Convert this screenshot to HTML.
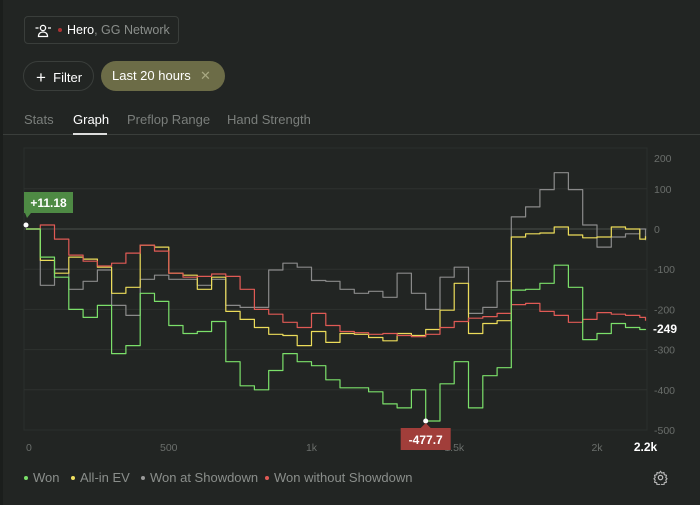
<!DOCTYPE html>
<html><head><meta charset="utf-8">
<style>
body{margin:0;background:#222523;width:700px;height:505px;overflow:hidden;font-family:"Liberation Sans",sans-serif;position:relative}
.abs{position:absolute}
.hdr{left:24px;top:16px;width:155px;height:28px;border:1px solid #3a3e3b;border-radius:4px;box-sizing:border-box;color:#fff;font-size:12.5px}
.pill{top:61px;height:30px;border-radius:15px;box-sizing:border-box;font-size:13px;color:#fff;line-height:30px}
.tab{top:112px;font-size:13px;color:#7a7e7b}
.leg{top:470px;font-size:13px;color:#8a8e8b}
.dot{display:inline-block;width:4px;height:4px;border-radius:2px;margin-right:5px;vertical-align:middle;position:relative;top:-1px}
</style></head><body>
<div class="abs" style="left:0;top:0;width:3px;height:505px;background:#1b1e1c"></div>
<div class="abs hdr">
 <svg class="abs" style="left:10px;top:7px" width="16" height="14" viewBox="0 0 16 14"><circle cx="8" cy="4" r="2.6" fill="none" stroke="#fff" stroke-width="1.3"/><path d="M3.5 12.5c0-3 2-4.5 4.5-4.5s4.5 1.5 4.5 4.5z" fill="none" stroke="#fff" stroke-width="1.3"/><path d="M0.5 4h3M13 4h3" stroke="#fff" stroke-width="1.2"/></svg>
 <span class="abs" style="left:33px;top:11px;width:4px;height:4px;border-radius:2px;background:#a33"></span>
 <span class="abs" style="left:42px;top:6px">Hero<span style="color:#8a8e8b">, GG Network</span></span>
</div>
<div class="abs pill" style="left:23px;width:71px;border:1px solid #3a3e3b;padding-left:12px"><span style="font-size:17px;position:relative;top:1px">+</span>&nbsp; Filter</div>
<div class="abs pill" style="left:101px;width:124px;background:#6c6c47;padding-left:11px">Last 20 hours<span style="position:absolute;left:99px;color:#a8a882">✕</span></div>
<div class="abs tab" style="left:24px">Stats</div>
<div class="abs tab" style="left:73px;color:#fff">Graph</div>
<div class="abs tab" style="left:127px">Preflop Range</div>
<div class="abs tab" style="left:227px">Hand Strength</div>
<div class="abs" style="left:3px;top:134px;width:697px;height:1px;background:#3a3e3b"></div>
<div class="abs" style="left:73px;top:133px;width:34px;height:2px;background:#ddd"></div>
<svg class="abs" style="left:0;top:0" width="700" height="505" id="chart"></svg>
<div class="abs leg" style="left:24px"><span class="dot" style="background:#7be06a"></span>Won</div>
<div class="abs leg" style="left:71px"><span class="dot" style="background:#f0e060"></span>All-in EV</div>
<div class="abs leg" style="left:141px"><span class="dot" style="background:#999"></span>Won at Showdown</div>
<div class="abs leg" style="left:265px"><span class="dot" style="background:#e05a55"></span>Won without Showdown</div>
<svg class="abs" style="left:653px;top:470px" width="15" height="15" viewBox="0 0 24 24"><circle cx="12" cy="12" r="3.5" fill="none" stroke="#bbb" stroke-width="2"/><path d="M12 2l2 3 3.5-1 .5 3.5 3.5 1-1 3.5 2 2-2 2 1 3.5-3.5 1-.5 3.5-3.5-1-2 3-2-3-3.5 1-.5-3.5-3.5-1 1-3.5-2-2 2-2-1-3.5 3.5-1 .5-3.5 3.5 1z" fill="none" stroke="#bbb" stroke-width="1.8" stroke-linejoin="round"/></svg>
<script>
const hands=[0,50,100,150,200,250,300,350,400,450,500,550,600,650,700,750,800,850,900,950,1000,1050,1100,1150,1200,1250,1300,1350,1400,1450,1500,1550,1600,1650,1700,1750,1800,1850,1900,1950,2000,2050,2100,2150,2170];
const won=[0,-70,-120,-200,-220,-190,-310,-290,-160,-180,-240,-260,-255,-230,-330,-390,-400,-352,-310,-330,-340,-375,-395,-395,-405,-435,-445,-400,-477.7,-385,-330,-445,-365,-345,-152,-150,-135,-90,-145,-275,-260,-235,-245,-250,-249];
const allinEV=[0,-78,-110,-70,-75,-95,-160,-145,-40,-45,-110,-115,-150,-120,-205,-225,-245,-262,-265,-290,-255,-282,-260,-262,-270,-278,-260,-265,-250,-202,-135,-260,-235,-228,-20,-12,-10,5,-15,-22,-20,5,0,-25,-18];
const showdown=[0,-140,-100,-150,-130,-102,-190,-215,-125,-115,-125,-125,-140,-125,-190,-195,-195,-102,-85,-95,-128,-130,-150,-160,-155,-170,-110,-160,-200,-120,-95,-210,-195,-130,30,55,98,140,98,10,-45,-20,-12,0,-28];
const noShowdown=[0,10,-25,-65,-80,-92,-85,-60,-40,-55,-110,-120,-118,-112,-118,-150,-200,-212,-232,-245,-210,-240,-255,-258,-262,-260,-265,-268,-262,-245,-230,-222,-218,-210,-188,-185,-205,-215,-232,-225,-208,-212,-215,-220,-228];
const yTicks=[200,100,0,-100,-200,-300,-400,-500];
const xTicks=[0,500,1000,1500,2000];
const xTickLabels=["0","500","1k","1.5k","2k"];
const startLabel="+11.18";
const NS="http://www.w3.org/2000/svg";
const svg=document.getElementById('chart');
const X=h=>26+h*0.2855;
const Y=v=>229-v*0.402;
function mk(t,a){const e=document.createElementNS(NS,t);for(const k in a)e.setAttribute(k,a[k]);svg.appendChild(e);return e;}
const fr=mk('rect',{x:24,y:148,width:623,height:282,fill:'none',stroke:'#2b2f2c'});


yTicks.forEach(v=>{
 const y=Y(v);
 if(v<200&&v>-500){const l=mk('line',{x1:24,x2:647,y1:y,y2:y,stroke:v===0?'#4a4e4b':'#2e322f','stroke-width':1});
 
 }
 const t=mk('text',{x:654,y:Math.max(y,158)+4,fill:'#6a6e6b','font-size':10.5});
 t.textContent=v;
 
 
});
xTicks.forEach((h,i)=>{
 const t=mk('text',{x:X(h),y:451,fill:'#6a6e6b','font-size':10.5,'text-anchor':i===0?'start':'middle'});
 t.textContent=xTickLabels[i];
 
 
});
const lastH=hands[hands.length-1];
const xe=mk('text',{x:X(lastH),y:451,fill:'#fff','font-size':12,'font-weight':'bold','text-anchor':'middle'});
xe.textContent=(lastH/1000).toFixed(1)+'k';


function series(vals,color,name){
 let d='M'+X(hands[0])+' '+Y(vals[0]);
 for(let i=1;i<vals.length;i++){d+=' H'+X(hands[i]).toFixed(1)+' V'+Y(vals[i]).toFixed(1);}
 const p=mk('path',{d:d,fill:'none',stroke:color,'stroke-width':1.2,'stroke-linejoin':'round'});
 
 
}
series(showdown,'#8a8a8a','series-won-at-showdown');
series(allinEV,'#ecdc5a','series-allin-ev');
series(noShowdown,'#e05a55','series-won-without-showdown');
series(won,'#7be06a','series-won');
const endV=won[won.length-1];
const el=mk('text',{x:653,y:Y(endV)+4,fill:'#fff','font-size':12,'font-weight':'bold'});
el.textContent=Math.round(endV);


const sp=mk('circle',{cx:X(0),cy:Y(0)-4,r:2.5,fill:'#fff'});


const sb=mk('path',{d:`M24 192 h49 v21 h-42 l-4 5 l-2 -5 h-1 z`,fill:'#4e8a44'});


const st=mk('text',{x:48.5,y:207,fill:'#fff','font-size':12,'font-weight':'bold','text-anchor':'middle'});
st.textContent=startLabel;


let mi=0;won.forEach((v,i)=>{if(v<won[mi])mi=i;});
const mx=X(hands[mi]),my=Y(won[mi]);
const mp=mk('circle',{cx:mx,cy:my,r:2.5,fill:'#fff'});


const mb=mk('path',{d:`M${mx-25} 428 h${20} l5 -5 l5 5 h20 v22 h-50 z`,fill:'#a13e3a'});


const mt=mk('text',{x:mx,y:444,fill:'#fff','font-size':12,'font-weight':'bold','text-anchor':'middle'});
mt.textContent=won[mi].toFixed(1);


</script>
</body></html>
